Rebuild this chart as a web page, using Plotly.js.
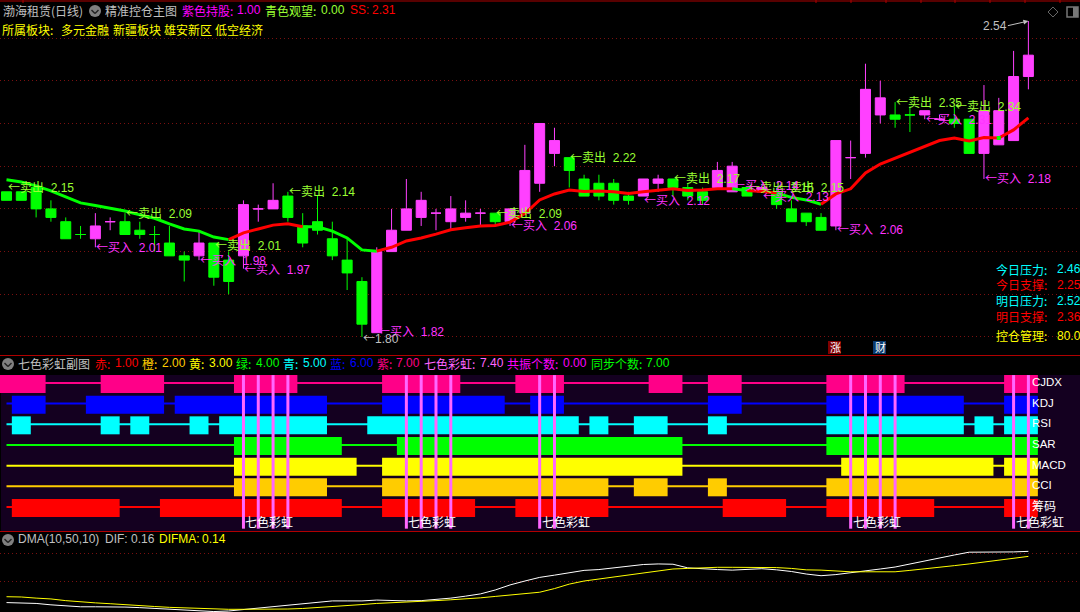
<!DOCTYPE html>
<html><head><meta charset="utf-8">
<script src="https://cdn.plot.ly/plotly-3.0.1.min.js"></script>
<style>html,body{margin:0;padding:0;background:#000;overflow:hidden}#c{width:1080px;height:612px}</style>
</head><body><div id="c"></div>
<script>
// ---------- main panel data ----------
const opens  = [2.14,2.14,2.15,2.10,2.07,2.04,2.03,2.07,2.07,2.05,2.04,2.02,1.99,1.99,2.02,1.98,1.99,2.10,2.10,2.13,2.06,2.07,2.03,1.98,1.93,1.81,2.00,2.05,2.08,2.09,2.07,2.08,2.09,2.09,2.07,2.09,2.16,2.23,2.22,2.17,2.16,2.16,2.13,2.13,2.16,2.17,2.15,2.14,2.15,2.14,2.15,2.14,2.14,2.10,2.09,2.08,2.06,2.22,2.23,2.32,2.32,2.32,2.32,2.31,2.31,2.31,2.23,2.25,2.26,2.41];
const highs  = [2.14,2.14,2.15,2.12,2.08,2.06,2.09,2.08,2.09,2.07,2.06,2.06,2.00,2.05,2.02,2.00,2.12,2.11,2.16,2.14,2.09,2.13,2.07,2.03,1.94,2.01,2.10,2.17,2.14,2.10,2.13,2.12,2.10,2.09,2.10,2.25,2.30,2.29,2.22,2.18,2.18,2.17,2.14,2.17,2.18,2.17,2.16,2.15,2.21,2.21,2.15,2.15,2.15,2.12,2.09,2.09,2.26,2.26,2.44,2.40,2.35,2.34,2.33,2.32,2.34,2.31,2.39,2.36,2.47,2.54];
const lows   = [2.12,2.12,2.08,2.07,2.03,2.03,2.01,2.05,2.04,2.03,2.00,1.99,1.93,1.98,1.92,1.90,1.96,2.07,2.10,2.07,2.01,2.04,1.98,1.91,1.80,1.81,2.00,2.05,2.06,2.05,2.05,2.07,2.06,2.06,2.06,2.09,2.14,2.20,2.15,2.13,2.12,2.11,2.11,2.13,2.14,2.13,2.12,2.11,2.15,2.14,2.13,2.14,2.10,2.07,2.06,2.05,2.05,2.17,2.22,2.30,2.29,2.28,2.31,2.31,2.29,2.23,2.17,2.25,2.26,2.38];
const closes = [2.12,2.12,2.10,2.08,2.03,2.04,2.06,2.07,2.04,2.04,2.04,1.99,1.98,2.02,1.94,1.93,2.11,2.10,2.12,2.08,2.02,2.05,1.99,1.95,1.83,2.00,2.05,2.10,2.12,2.09,2.10,2.09,2.09,2.07,2.10,2.19,2.30,2.26,2.19,2.13,2.13,2.12,2.12,2.17,2.17,2.15,2.13,2.12,2.19,2.20,2.13,2.15,2.11,2.07,2.07,2.05,2.26,2.22,2.38,2.36,2.31,2.32,2.33,2.31,2.30,2.23,2.33,2.33,2.41,2.46];
const pinkBars = [6,7,13,16,17,18,25,26,27,28,29,30,31,32,34,35,36,37,43,44,48,49,51,56,57,58,59,62,63,66,67,68,69];
const maLine = [2.168,2.163,2.154,2.142,2.128,2.114,2.108,2.102,2.095,2.086,2.078,2.065,2.053,2.048,2.034,2.028,2.044,2.053,2.062,2.065,2.058,2.058,2.048,2.032,2.004,2.001,2.010,2.025,2.032,2.041,2.051,2.056,2.060,2.061,2.069,2.089,2.121,2.135,2.144,2.141,2.142,2.140,2.136,2.140,2.144,2.147,2.143,2.144,2.147,2.147,2.143,2.141,2.137,2.127,2.121,2.111,2.135,2.147,2.184,2.205,2.219,2.233,2.247,2.260,2.266,2.259,2.267,2.266,2.285,2.313];
const maGreenRuns = [[0,15],[20,25],[49,50],[52,55]];
const maRedRuns   = [[15,20],[25,49],[50,52],[55,69]];
const maGreenDots = [67];
const priceGrid = [1.8,1.9,2.0,2.1,2.2,2.3,2.4,2.5];

const sellBars = [0,8,14,19,33,38,45,50,52,60,64];
const sellAt   = [2.15,2.09,2.015,2.14,2.09,2.22,2.17,2.15,2.15,2.35,2.34];
const sellText = ["2.15","2.09","2.01","2.14","2.09","2.22","2.17","2.15","2.15","2.35","2.34"];
const buyBars = [6,13,16,25,34,43,49,51,56,62,66];
const buyAt   = [2.01,1.98,1.957,1.812,2.06,2.12,2.155,2.13,2.052,2.31,2.172];
const buyText = ["2.01","1.98","1.97","1.82","2.06","2.12","2.14","2.13","2.06","2.31","2.18"];

// ---------- rainbow panel data ----------
const rowNames  = ["CJDX","KDJ","RSI","SAR","MACD","CCI","筹码"];
const rowColors = ["#ff0088","#0000ff","#00ffff","#00ff00","#ffff00","#ffcc00","#ff0000"];
const rowValues = [7,6,5,4,3,2,1];
const cjdxRuns = [[0,2],[7,10],[16,19],[26,30],[35,37],[44,45],[48,49],[56,60],[68,69]];
const kdjRuns  = [[1,2],[6,10],[12,21],[26,33],[36,37],[48,49],[56,64],[68,69]];
const rsiRuns  = [[1,1],[7,7],[9,9],[13,13],[15,21],[25,38],[40,40],[43,44],[48,48],[56,64],[66,66],[68,69]];
const sarRuns  = [[16,22],[27,45],[56,69]];
const macdRuns = [[16,23],[26,45],[57,66],[68,69]];
const cciRuns  = [[16,21],[26,40],[43,44],[48,48],[56,69]];
const chipRuns = [[1,7],[11,22],[26,31],[35,40],[49,52],[56,62],[68,69]];
const allRuns  = [cjdxRuns,kdjRuns,rsiRuns,sarRuns,macdRuns,cciRuns,chipRuns];
const rainbowBars = [16,17,18,19,27,28,29,30,36,37,57,58,59,60,68,69];
const rainbowLabelBars = [16,27,36,57,68];

// ---------- DMA panel data ----------
const dif = [-.026,-.0275,-.029,-.034,-.038,-.041,-.041,-.041,-.042,-.044,-.047,-.051,-.054,-.056,-.058,-.056,-.051,-.045,-.040,-.035,-.029,-.024,-.020,-.020,-.020,-.017,-.019,-.020,-.019,-.015,-.010,-.003,.005,.019,.037,.051,.064,.072,.081,.089,.092,.098,.105,.110,.112,.111,.098,.094,.092,.090,.092,.095,.091,.085,.076,.070,.074,.080,.087,.094,.101,.112,.124,.135,.144,.154,.154,.154,.155,.157];
const difma = [-.005,-.006,-.010,-.013,-.019,-.024,-.027,-.030,-.034,-.037,-.040,-.043,-.045,-.046,-.048,-.050,-.050,-.050,-.050,-.049,-.047,-.044,-.041,-.036,-.033,-.029,-.027,-.025,-.022,-.019,-.016,-.013,-.009,-.004,.001,.006,.011,.024,.040,.051,.058,.065,.072,.079,.087,.094,.096,.099,.100,.100,.100,.100,.099,.096,.091,.090,.087,.084,.084,.084,.084,.089,.094,.099,.106,.112,.119,.126,.133,.139];
const dmaGrid = [0.05,0.15];

// ---------- helpers ----------
const W=1080,H=612;
const CN='"Noto Sans CJK SC","Noto Sans CJK JP",sans-serif';
const num=s=>'<span style="font-family:\'Liberation Sans\';font-size:12px">'+s+'</span>';
const GAP='\u00a0\u00a0';
const bars=opens.map((_,i)=>i);
const pick=(a,ix)=>ix.map(i=>a[i]);
const greenBars=bars.filter(i=>!pinkBars.includes(i));
const PINK='#ff40ff',GREEN='#00ff00',SELL='#99ff33',BUY='#ff33ff',SILVER='#c0c0c0';

function candle(ix,col){return {type:'candlestick',x:ix,open:pick(opens,ix),high:pick(highs,ix),low:pick(lows,ix),close:pick(closes,ix),xaxis:'x',yaxis:'y',
  increasing:{line:{color:col,width:1},fillcolor:col},decreasing:{line:{color:col,width:1},fillcolor:col},whiskerwidth:0,hoverinfo:'skip',showlegend:false};}
const traces=[candle(greenBars,GREEN),candle(pinkBars,PINK)];

function maTrace(run,col){const ix=bars.slice(run[0],run[1]+1);return {type:'scatter',mode:'lines',x:ix,y:pick(maLine,ix),xaxis:'x',yaxis:'y',line:{color:col,width:3},hoverinfo:'skip',showlegend:false};}
maGreenRuns.forEach(r=>traces.push(maTrace(r,GREEN)));
maRedRuns.forEach(r=>traces.push(maTrace(r,'#ff0000')));
traces.push({type:'scatter',mode:'markers',x:maGreenDots,y:pick(maLine,maGreenDots),xaxis:'x',yaxis:'y',marker:{symbol:'square',size:4,color:GREEN},hoverinfo:'skip',showlegend:false});

// rainbow rows
rowNames.forEach((n,k)=>{
  traces.push({type:'scatter',mode:'lines',x:[0,69],y:[rowValues[k]+0.05,rowValues[k]+0.05],xaxis:'x',yaxis:'y2',line:{color:rowColors[k],width:2},hoverinfo:'skip',showlegend:false});
  traces.push({type:'bar',orientation:'h',y:allRuns[k].map(()=>rowValues[k]),x:allRuns[k].map(r=>r[1]-r[0]+1.28),base:allRuns[k].map(r=>r[0]-0.64),width:0.87,xaxis:'x',yaxis:'y2',marker:{color:rowColors[k],line:{width:0}},hoverinfo:'skip',showlegend:false});
});
const rbX=[],rbY=[];
rainbowBars.forEach(i=>{rbX.push(i,i,null);rbY.push(0.0,7.43,null);});
traces.push({type:'scatter',mode:'lines',x:rbX,y:rbY,xaxis:'x',yaxis:'y2',connectgaps:false,line:{color:'#ff66ff',width:3},hoverinfo:'skip',showlegend:false});

// DMA
traces.push({type:'scatter',mode:'lines',x:bars,y:dif,xaxis:'x',yaxis:'y3',line:{color:'#ffffff',width:1},hoverinfo:'skip',showlegend:false});
traces.push({type:'scatter',mode:'lines',x:bars,y:difma,xaxis:'x',yaxis:'y3',line:{color:'#ffff00',width:1},hoverinfo:'skip',showlegend:false});

// annotations
const ann=[];
function pxText(text,color,x,y,size){ann.push({xref:'paper',yref:'paper',x:x/W,y:1-y/H,yshift:1,text:text,showarrow:false,xanchor:'left',yanchor:'middle',borderpad:0,font:{family:CN,size:size||12,color:color}});}
function dataText(text,color,i,p){ann.push({xref:'x',yref:'y',x:i,y:p,yshift:1,text:text,showarrow:false,xanchor:'left',yanchor:'middle',borderpad:0,font:{family:CN,size:12,color:color}});}

pxText('渤海租赁(日线)',SILVER,2,11);
pxText('精准控仓主图',SILVER,104,11);
pxText('紫色持股:','#ff00ff',181,11); pxText(num('1.00'),'#ff00ff',236,11);
pxText('青色观望:',SELL,264,11); pxText(num('0.00'),SELL,320,11);
pxText(num('SS:'),'#ff0000',349,11); pxText(num('2.31'),'#ff0000',371,11);
pxText('所属板块:','#ffff00',1,30);
pxText('多元金融','#ffff00',60,30); pxText('新疆板块','#ffff00',112,30); pxText('雄安新区','#ffff00',163,30); pxText('低空经济','#ffff00',214,30);

sellBars.forEach((b,k)=>dataText('←卖出'+num(GAP+sellText[k]),SELL,b,sellAt[k]));
buyBars.forEach((b,k)=>dataText('←买入'+num(GAP+buyText[k]),BUY,b,buyAt[k]));
dataText('←'+num('1.80'),SILVER,24,1.797);
pxText(num('2.54'),SILVER,982,27);
ann.push({xref:'x',yref:'y',x:69,y:2.54,text:'',showarrow:true,ax:-22,ay:5,arrowcolor:SILVER,arrowwidth:1,arrowhead:2,arrowsize:1});

[['今日压力:','2.46','#00ffff',270],['今日支撑:','2.25','#ff0000',285.7],['明日压力:','2.52','#00ffff',301.7],['明日支撑:','2.36','#ff0000',317.7]].forEach(r=>{
  pxText(r[0],r[2],995,r[3]); pxText(num(r[1]),r[2],1056,r[3]);});
pxText('控仓管理:','#ffff00',995,336.7); pxText(num('80.0'),'#ffff00',1056,336.7);
pxText('涨','#ffffff',829,347.5,11); pxText('财','#ffffff',874,347.5,11);

pxText('七色彩虹副图',SILVER,17,364);
[['赤:','1.00','#ff0000',94,113.6],['橙:','2.00','#ffcc00',141,160.5],['黄:','3.00','#ffff00',188,207.6],['绿:','4.00','#00ff00',235,254.5],['青:','5.00','#00ffff',282,301.6],['蓝:','6.00','#0000ff',329,348.5],['紫:','7.00','#ff0088',376,395.3],['七色彩虹:','7.40','#ff66ff',423,478.7],['共振个数:','0.00','#ff00ff',506,561.7],['同步个数:','7.00','#00ff00',590,644.7]].forEach(r=>{
  pxText(r[0],r[2],r[3],364); pxText(num(r[1]),r[2],r[4],364);});
rowNames.forEach((n,k)=>ann.push({xref:'paper',yref:'y2',x:1031/W,y:rowValues[k]+0.05,yshift:1,text:n,showarrow:false,xanchor:'left',yanchor:'middle',borderpad:0,font:{family:k<6?'"Liberation Sans"':CN,size:k<6?11.5:12,color:'#ffffff'}}));
rainbowLabelBars.forEach(b=>ann.push({xref:'x',yref:'paper',x:b,xshift:1,y:1-522.7/H,yshift:1,text:'七色彩虹',showarrow:false,xanchor:'left',yanchor:'middle',borderpad:0,font:{family:CN,size:12,color:'#ffffff'}}));

pxText(num('DMA(10,50,10)'),SILVER,17,540);
pxText(num('DIF:'),SILVER,104,540); pxText(num('0.16'),SILVER,129.5,540);
pxText(num('DIFMA:'),'#ffff00',158,540); pxText(num('0.14'),'#ffff00',201,540);

// shapes (page furniture)
const X=v=>v/W,Y=v=>1-v/H;
const shapes=[];
const paperShape=o=>Object.assign({xref:'paper',yref:'paper'},o);
shapes.push(paperShape({type:'rect',layer:'below',x0:X(1),x1:X(1080),y0:Y(375),y1:Y(531),fillcolor:'#140020',line:{width:0}}));
[1,355.5,531.5].forEach(v=>shapes.push(paperShape({type:'line',layer:'above',x0:0,x1:1,y0:Y(v),y1:Y(v),line:{color:'#b00000',width:1}})));
[23,816,851,886,921,955,990,1025,1060].forEach(v=>shapes.push(paperShape({type:'line',x0:X(v),x1:X(v),y0:Y(0),y1:Y(3),line:{color:'#b00000',width:1}})));
function icon(cx,cy){
  shapes.push(paperShape({type:'circle',x0:X(cx-6),x1:X(cx+6),y0:Y(cy-6),y1:Y(cy+6),fillcolor:'#808080',line:{width:0}}));
  shapes.push(paperShape({type:'line',x0:X(cx-3.5),x1:X(cx),y0:Y(cy-1),y1:Y(cy+2.5),line:{color:'#222',width:1.5}}));
  shapes.push(paperShape({type:'line',x0:X(cx),x1:X(cx+3.5),y0:Y(cy+2.5),y1:Y(cy-1),line:{color:'#222',width:1.5}}));
}
icon(95,11);icon(8,364);icon(8,540);
shapes.push(paperShape({type:'rect',layer:'below',x0:X(828),x1:X(841),y0:Y(341),y1:Y(354),fillcolor:'#800000',line:{width:0}}));
shapes.push(paperShape({type:'rect',layer:'below',x0:X(873),x1:X(886),y0:Y(341),y1:Y(354),fillcolor:'#0a3a6e',line:{width:0}}));
// diamond + window icons, top right
[[1048,12,1053,7],[1053,7,1058,12],[1058,12,1053,17],[1053,17,1048,12]].forEach(s=>shapes.push(paperShape({type:'line',x0:X(s[0]),y0:Y(s[1]),x1:X(s[2]),y1:Y(s[3]),line:{color:'#666',width:1}})));
shapes.push(paperShape({type:'rect',x0:X(1067),x1:X(1078),y0:Y(7),y1:Y(17),fillcolor:'#000',line:{color:'#777',width:1.5}}));
shapes.push(paperShape({type:'rect',x0:X(1073),x1:X(1078),y0:Y(7),y1:Y(17),fillcolor:'#777',line:{width:0}}));

const gridBase={showticklabels:false,ticks:'',showline:false,zeroline:false,gridcolor:'#7a1010',griddash:'1px,3px',gridwidth:1,tickmode:'array'};
const layout={
  width:W,height:H,margin:{l:0,r:0,t:0,b:0,pad:0},paper_bgcolor:'#000',plot_bgcolor:'rgba(0,0,0,0)',showlegend:false,
  barmode:'overlay',boxgap:0.325,boxgroupgap:0,boxmode:'overlay',dragmode:false,
  xaxis:{domain:[0,1],range:[-6.5/14.81,(W-6.5)/14.81],visible:false,fixedrange:true,rangeslider:{visible:false},anchor:'y3'},
  yaxis:Object.assign({},gridBase,{domain:[1-355/H,1],range:[1.7578,2.5892],tickvals:priceGrid,showgrid:true,fixedrange:true}),
  yaxis2:{domain:[1-531/H,1-375/H],range:[-0.113,7.435],visible:false,fixedrange:true},
  yaxis3:Object.assign({},gridBase,{domain:[0,1-532/H],range:[-0.0596,0.2261],tickvals:dmaGrid,showgrid:true,fixedrange:true}),
  annotations:ann,shapes:shapes
};
Plotly.newPlot('c',traces,layout,{displayModeBar:false,staticPlot:true});
</script></body></html>
